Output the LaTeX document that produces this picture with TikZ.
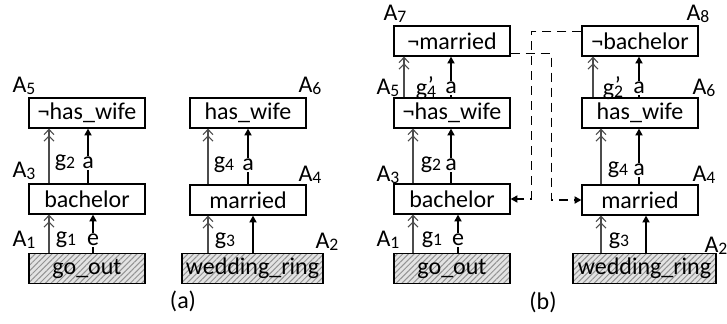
\documentclass[tikz,border=0pt]{standalone}
\usepackage{fontspec}
\setmainfont{Carlito}
\usetikzlibrary{arrows.meta,patterns.meta}
\newcommand\lo[1]{\raisebox{-0.15ex}{\fontsize{8.8}{9}\selectfont #1}}
\newcommand\gp[1]{g\rlap{\kern0.4pt\raisebox{0.2ex}{'}}\lo{#1}}
\newcommand\conn[4]{\coordinate (tmpx) at (#4,0); \draw[#1] (#2.north -| tmpx) -- (#3.south -| tmpx);}
\begin{document}
\begin{tikzpicture}[x=0.5pt,y=-0.5pt,font=\fontsize{12}{14}\selectfont,
  box/.style={draw, line width=0.65pt, minimum width=58pt, minimum height=15pt, inner sep=0pt},
  wbox/.style={box, fill=white},
  hbox/.style={box, preaction={fill=gray!22}, pattern={Lines[angle=45,distance=2pt,line width=0.5pt]}, pattern color=gray!85},
  dbl/.style={draw=black!70, line width=0.6pt, -{Straight Barb[length=2.6pt,width=5pt,line width=0.55pt] Straight Barb[length=2.6pt,width=5pt,line width=0.55pt]}},
  sol/.style={line width=0.6pt, -{Triangle[length=3.4pt,width=3.6pt]}},
  dsh/.style={line width=0.6pt, dash pattern=on 4.5pt off 3pt, -{Triangle[length=3.4pt,width=3.6pt]}},
  lbl/.style={fill=white, inner sep=0.5pt},
  tag/.style={inner sep=0pt}]
\useasboundingbox (0,0) rectangle (727,323);
% panel (a)
\node[hbox] (go_a) at (87,268.5) {go\_out};
\node[wbox] (bach_a) at (87,199) {bachelor};
\node[wbox] (nhw_a) at (87,113) {¬has\_wife};
\node[hbox, minimum width=70.5pt] (wr_a) at (252.5,268.5) {wedding\_ring};
\node[wbox] (mar_a) at (248,200) {married};
\node[wbox] (hw_a) at (248,113) {has\_wife};
% panel (b)
\node[wbox] (nmar_b) at (452,41) {¬married};
\node[wbox] (nhw_b) at (452,113) {¬has\_wife};
\node[wbox] (bach_b) at (452,199) {bachelor};
\node[hbox] (go_b) at (452,268.5) {go\_out};
\node[wbox] (nbach_b) at (640,41) {¬bachelor};
\node[wbox] (hw_b) at (640,113) {has\_wife};
\node[wbox] (mar_b) at (640,200) {married};
\node[hbox, minimum width=71.5pt] (wr_b) at (644.5,268.5) {wedding\_ring};
% arrows (a)
\conn{dbl}{go_a}{bach_a}{49}
\conn{sol}{go_a}{bach_a}{93}
\conn{dbl}{bach_a}{nhw_a}{49}
\conn{sol}{bach_a}{nhw_a}{88}
\conn{dbl}{wr_a}{mar_a}{208}
\conn{sol}{wr_a}{mar_a}{253}
\conn{dbl}{mar_a}{hw_a}{208}
\conn{sol}{mar_a}{hw_a}{248}
% arrows (b)
\conn{dbl}{go_b}{bach_b}{413}
\conn{sol}{go_b}{bach_b}{458}
\conn{dbl}{bach_b}{nhw_b}{413}
\conn{sol}{bach_b}{nhw_b}{451}
\conn{dbl}{nhw_b}{nmar_b}{404}
\conn{sol}{nhw_b}{nmar_b}{451}
\conn{dbl}{wr_b}{mar_b}{601}
\conn{sol}{wr_b}{mar_b}{646}
\conn{dbl}{mar_b}{hw_b}{601}
\conn{sol}{mar_b}{hw_b}{639}
\conn{dbl}{hw_b}{nbach_b}{593}
\conn{sol}{hw_b}{nbach_b}{639}
% dashed links
\draw[dsh] ([yshift=1.5pt]nmar_b.south east) -- ++(41,0) |- (mar_b.west);
\draw[dsh] ([yshift=-3pt]nbach_b.north west) -- ++(-50,0) |- (bach_b.east);
% labels (a)
\node[tag] (la5) at (24,86) {A\lo{5}};
\node[tag] (la3) at (24,171) {A\lo{3}};
\node[tag] (la1) at (24,240) {A\lo{1}};
\node[tag] (lag2) at (65,163) {g\lo{2}};
\node[lbl] (laa1) at (88,163) {a};
\node[tag] (lag1) at (66,240) {g\lo{1}};
\node[lbl] (lae) at (93,240) {e};
\node[tag] (la6) at (310,86) {A\lo{6}};
\node[tag] (la4) at (310,175) {A\lo{4}};
\node[tag] (la2) at (327,242) {A\lo{2}};
\node[tag] (lag4) at (224,165) {g\lo{4}};
\node[lbl] (laa2) at (248,165) {a};
\node[tag] (lag3) at (225,241) {g\lo{3}};
\node[tag] (capa) at (183,301) {(a)};
% labels (b)
\node[tag] (lb7) at (395,14) {A\lo{7}};
\node[tag] (lb5) at (388,88) {A\lo{5}};
\node[tag] (lb3) at (388,175) {A\lo{3}};
\node[tag] (lb1) at (388,240) {A\lo{1}};
\node[tag] (lbg4p) at (426,88) {\gp{4}};
\node[lbl] (lba1) at (451,88) {a};
\node[tag] (lbg2) at (431,165) {g\lo{2}};
\node[lbl] (lba2) at (451,165) {a};
\node[tag] (lbg1) at (432,240) {g\lo{1}};
\node[lbl] (lbe) at (458,240) {e};
\node[tag] (lb8) at (698,14) {A\lo{8}};
\node[tag] (lb6) at (704,88) {A\lo{6}};
\node[tag] (lb4) at (704,175) {A\lo{4}};
\node[tag] (lb2) at (716,246) {A\lo{2}};
\node[tag] (lbg2p) at (613,88) {\gp{2}};
\node[lbl] (lba3) at (639,88) {a};
\node[tag] (lbg4) at (618,170) {g\lo{4}};
\node[lbl] (lba4) at (639,170) {a};
\node[tag] (lbg3) at (619,241) {g\lo{3}};
\node[tag] (capb) at (543,302) {(b)};
\end{tikzpicture}
\end{document}
